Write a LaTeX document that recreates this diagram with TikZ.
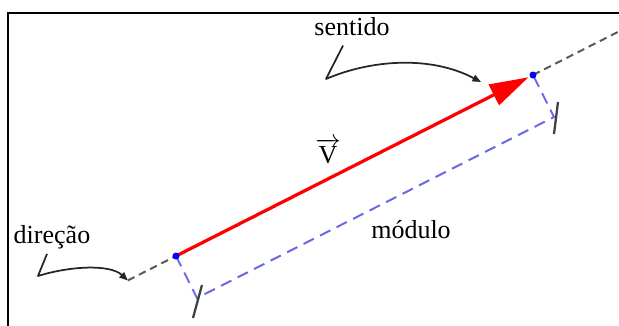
\documentclass[tikz,border=0pt]{standalone}
\usepackage{fontspec}
\setmainfont{Liberation Serif}
\usetikzlibrary{arrows.meta,calc}
\definecolor{axisgray}{RGB}{90,90,90}
\definecolor{measureblue}{RGB}{105,105,230}
\tikzset{axisline/.style={axisgray, dash pattern=on 0.15cm off 0.1cm, line width=0.04cm},
    measure/.style={measureblue, dash pattern=on 0.23cm off 0.14cm, line width=0.04cm},
    tickmark/.style={black!75, line width=0.045cm},
    vector/.style={red, line width=0.065cm, -{Triangle[length=0.78cm,width=0.45cm]}, shorten >=0.1cm},
    pointer/.style={black!85, line width=0.035cm, line join=round, -{Triangle[length=0.17cm,width=0.14cm]}},
    word/.style={font=\fontsize{14.8}{17}\selectfont, inner sep=0pt, anchor=base},
}

\begin{document}
\begin{tikzpicture}[x=0.02cm, y=-0.02cm]
\useasboundingbox (0,0) rectangle (619,325);
\draw[line width=0.05cm] (8,330) -- (8,13) -- (625,13);

% points of the vector
\coordinate (A) at (176,256);
\coordinate (B) at (533,75);
\coordinate (near) at ($(A)!-0.135!(B)$);
\coordinate (far) at ($(A)!1.25!(B)$);
\coordinate (C1) at ($(A)+(21,42)$);
\coordinate (C2) at ($(B)+(21,42)$);

% direction line
\draw[axisline] (near) -- (A);
\draw[axisline] (B) -- (far);

% length
\draw[measure] (A) -- (C1) -- (C2) -- (B);
\draw[tickmark] ($(C1)+(5,-13)$) -- ($(C1)+(-4,20)$);
\draw[tickmark] ($(C2)+(4,-15)$) -- ($(C2)+(0,17)$);

\draw[vector] (A) -- (B);
\fill[blue] (A) circle (0.07cm);
\fill[blue] (B) circle (0.07cm);

\node[word] (sentido) at (352,35) {sentido};
\node[word] (direcao) at (52,243) {direção};
\node[word] (modulo) at (411,238) {módulo};
\node[word] (vetor) at (328,163) {$\overrightarrow{\textrm{V}}$};

\coordinate (headtip) at (481,82);
\draw[pointer] ($(sentido.south)+(-9,10)$) -- (326,79) .. controls (370,60) and (430,55) .. (headtip);
\draw[pointer] ($(direcao.south)+(-5,5)$) -- (38,276) .. controls (70,266) and (110,264) .. (near);
\end{tikzpicture}
\end{document}
